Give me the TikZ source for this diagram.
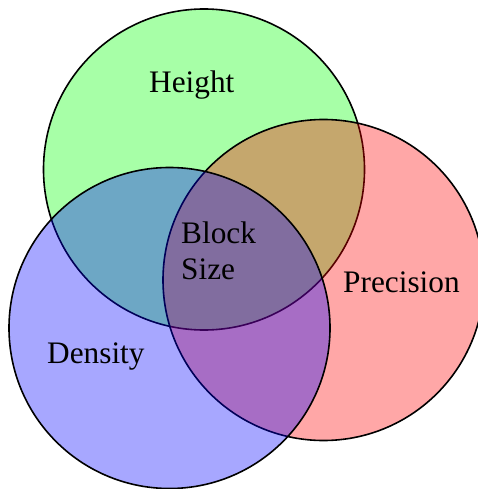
\documentclass[tikz,border=0pt]{standalone}
\usepackage{fontspec}
\setmainfont{Liberation Serif}
\begin{document}
\begin{tikzpicture}[x=1pt,y=-1pt,
  setcircle/.style={draw=black, line width=1.6pt, fill opacity=0.345},
  lbl/.style={anchor=base west, inner sep=0pt, font=\fontsize{31.3}{36}\selectfont, align=left}]
\useasboundingbox (0,0) rectangle (478,489);
\fill[white] (0,0) rectangle (478,489);
\draw[setcircle, fill={rgb,255:red,0;green,255;blue,0}] (204,169.5) circle[radius=160.5];
\draw[setcircle, fill={rgb,255:red,255;green,0;blue,0}] (323.5,280) circle[radius=160.5];
\draw[setcircle, fill={rgb,255:red,0;green,0;blue,255}] (169.5,328) circle[radius=160.5];
\node[lbl] (height) at (149,92.5) {Height};
\node[lbl] (block) at (181,243) {Block};
\node[lbl] (size) at (181,279) {Size};
\node[lbl] (prec) at (343,292.5) {Precision};
\node[lbl] (dens) at (47,363) {Density};
\end{tikzpicture}
\end{document}
